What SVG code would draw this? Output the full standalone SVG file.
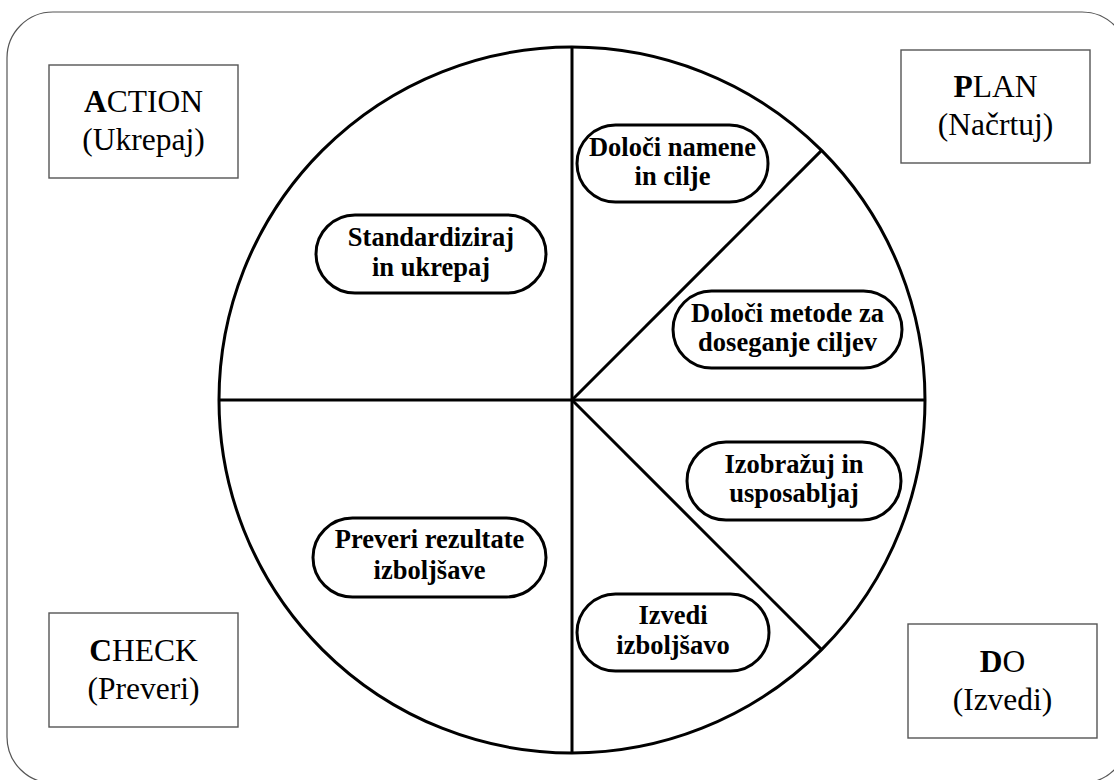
<svg xmlns="http://www.w3.org/2000/svg" width="1114" height="780" viewBox="0 0 1114 780">
<style>
.frame{fill:none;stroke:#555;stroke-width:1.2}
.box{fill:#fff;stroke:#555;stroke-width:1.4}
.pill{fill:#fff;stroke:#000;stroke-width:3}
.wheel{fill:none;stroke:#000;stroke-width:3}
.div{stroke:#000;stroke-width:3;fill:none}
.lbl{font-size:31.5px;fill:#000;text-anchor:middle}
.ptx{font-size:26.5px;font-weight:bold;fill:#000;text-anchor:middle}
</style>
<rect width="1114" height="780" fill="#fff"/>
<rect class="frame" x="7" y="12" width="1121" height="771" rx="46" ry="46"/>
<g id="wheel"><circle class="wheel" cx="572" cy="400" r="353"/></g>
<g id="connectors">
<line class="div" x1="572" y1="47" x2="572" y2="753"/>
<line class="div" x1="219" y1="400" x2="925" y2="400"/>
<line class="div" x1="572" y1="400" x2="821.6" y2="150.4"/>
<line class="div" x1="572" y1="400" x2="821.6" y2="649.6"/>
</g>
<g font-family="'Liberation Serif', 'DejaVu Serif', serif">
<g id="action">
<rect class="box" x="49" y="65" width="189" height="113"/>
<text class="lbl" x="143.5" y="112"><tspan font-weight="bold">A</tspan>CTION</text>
<text class="lbl" x="143.5" y="150">(Ukrepaj)</text>
</g>
<g id="plan">
<rect class="box" x="901" y="50" width="189" height="113"/>
<text class="lbl" x="995.5" y="97"><tspan font-weight="bold">P</tspan>LAN</text>
<text class="lbl" x="995.5" y="135">(Načrtuj)</text>
</g>
<g id="check">
<rect class="box" x="49" y="613" width="189" height="114"/>
<text class="lbl" x="143.5" y="661"><tspan font-weight="bold">C</tspan>HECK</text>
<text class="lbl" x="143.5" y="699">(Preveri)</text>
</g>
<g id="do">
<rect class="box" x="908" y="624" width="189" height="114"/>
<text class="lbl" x="1002.5" y="672"><tspan font-weight="bold">D</tspan>O</text>
<text class="lbl" x="1002.5" y="710">(Izvedi)</text>
</g>
<g id="p1">
<rect class="pill" x="577" y="125" width="191" height="77" rx="38.5"/>
<text class="ptx" x="672.5" y="156">Določi namene</text>
<text class="ptx" x="672.5" y="185">in cilje</text>
</g>
<g id="p2">
<rect class="pill" x="673" y="291" width="229" height="77" rx="38.5"/>
<text class="ptx" x="787.5" y="322">Določi metode za</text>
<text class="ptx" x="787.5" y="351">doseganje ciljev</text>
</g>
<g id="d1">
<rect class="pill" x="687" y="442" width="214" height="78" rx="39"/>
<text class="ptx" x="794" y="473">Izobražuj in</text>
<text class="ptx" x="794" y="502">usposabljaj</text>
</g>
<g id="d2">
<rect class="pill" x="577" y="594" width="192" height="77" rx="38.5"/>
<text class="ptx" x="673" y="624">Izvedi</text>
<text class="ptx" x="673" y="654">izboljšavo</text>
</g>
<g id="a1">
<rect class="pill" x="316" y="215" width="230" height="78" rx="39"/>
<text class="ptx" x="431" y="246">Standardiziraj</text>
<text class="ptx" x="431" y="276">in ukrepaj</text>
</g>
<g id="c1">
<rect class="pill" x="313" y="518" width="233" height="79" rx="39.5"/>
<text class="ptx" x="429.5" y="548">Preveri rezultate</text>
<text class="ptx" x="429.5" y="579">izboljšave</text>
</g>
</g>
</svg>
